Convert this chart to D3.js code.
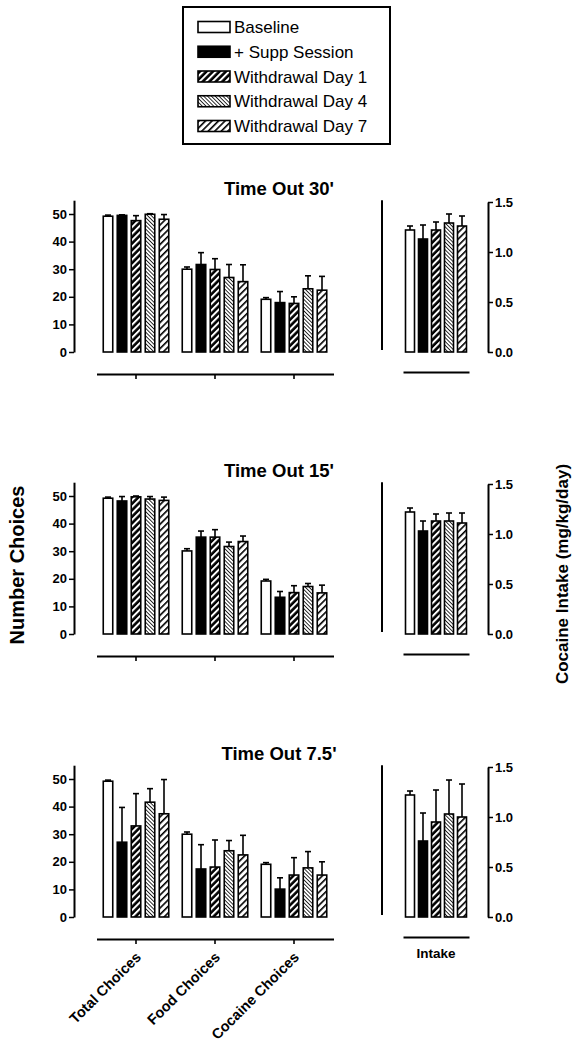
<!DOCTYPE html>
<html>
<head>
<meta charset="utf-8">
<script src="https://cdn.jsdelivr.net/npm/d3@7"></script>
<style>
  html, body { margin: 0; padding: 0; background: #fff; }
  svg { display: block; font-family: "Liberation Sans", Arial, Helvetica, sans-serif; }
</style>
</head>
<body>
<svg id="chart" width="582" height="1042"></svg>
<script>
// ---------------- DATA ----------------
const categories = ["Total Choices", "Food Choices", "Cocaine Choices"];
const seriesNames = ["Baseline", "+ Supp Session", "Withdrawal Day 1", "Withdrawal Day 4", "Withdrawal Day 7"];
const panelTitles = ["Time Out 30'", "Time Out 15'", "Time Out 7.5'"];
const intakeLabel = "Intake";
const leftTicks = [0, 10, 20, 30, 40, 50];
const rightTicks = [0.0, 0.5, 1.0, 1.5];

// choices: [category][series] means, and upper SEM
const choices30 = [[49.2, 49.5, 47.6, 49.9, 48.1], [30.0, 31.7, 29.9, 27.0, 25.5], [19.1, 17.9, 17.6, 22.9, 22.4]];
const choicesErr30 = [[0.4, 0.2, 1.8, 0.2, 1.7], [0.8, 4.3, 3.9, 4.7, 6.1], [0.6, 4.0, 2.4, 4.7, 5.0]];
const choices15 = [[49.2, 48.2, 49.7, 48.9, 48.4], [30.1, 35.1, 35.1, 31.7, 33.5], [19.2, 13.3, 15.0, 17.2, 14.9]];
const choicesErr15 = [[0.4, 1.6, 0.3, 0.9, 1.2], [0.8, 2.2, 2.7, 1.6, 2.0], [0.6, 2.1, 2.5, 1.1, 2.8]];
const choices75 = [[49.2, 27.1, 33.0, 41.6, 37.4], [30.0, 17.4, 18.1, 24.0, 22.5], [19.1, 10.1, 15.2, 17.8, 15.2]];
const choicesErr75 = [[0.4, 12.6, 11.7, 4.9, 12.4], [0.8, 8.8, 9.8, 3.7, 7.1], [0.6, 4.1, 6.3, 5.9, 4.8]];

const intake30 = [1.22, 1.13, 1.22, 1.29, 1.26];
const intakeErr30 = [0.04, 0.14, 0.08, 0.09, 0.10];
const intake15 = [1.22, 1.03, 1.13, 1.13, 1.11];
const intakeErr15 = [0.04, 0.10, 0.07, 0.08, 0.10];
const intake75 = [1.22, 0.76, 0.95, 1.03, 1.00];
const intakeErr75 = [0.04, 0.28, 0.32, 0.34, 0.33];

const panelChoices = [choices30, choices15, choices75];
const panelChoicesErr = [choicesErr30, choicesErr15, choicesErr75];
const panelIntake = [intake30, intake15, intake75];
const panelIntakeErr = [intakeErr30, intakeErr15, intakeErr75];

// ---------------- DRAW ----------------
const svg = d3.select("#chart");
const defs = svg.append("defs");

function stripePattern(id, angle, period, lineW, bg, fg) {
  const p = defs.append("pattern").attr("id", id)
    .attr("patternUnits", "userSpaceOnUse")
    .attr("width", period).attr("height", period)
    .attr("patternTransform", `rotate(${angle})`);
  p.append("rect").attr("width", period).attr("height", period).attr("fill", bg);
  p.append("rect").attr("x", 0).attr("y", 0).attr("width", lineW).attr("height", period).attr("fill", fg);
}
stripePattern("p-w1", 45, 4.6, 2.0, "#000", "#fff");
stripePattern("p-w4", -45, 2.7, 0.8, "#fff", "#000");
stripePattern("p-w7", 45, 4.6, 1.6, "#fff", "#000");

const fills = ["#fff", "#000", "url(#p-w1)", "url(#p-w4)", "url(#p-w7)"];
const color = d3.scaleOrdinal().domain(seriesNames).range(fills);

const bold = "bold";
const zeroYs = [352, 634, 917];

const xGroup = d3.scaleBand().domain(categories).range([96.5, 333.5]).padding(0);
const xInner = d3.scalePoint().domain(seriesNames).range([-28, 28]);
const barW = 9.5;
const intakeCenter = 436;
const xIntake = d3.scalePoint().domain(seriesNames).range([intakeCenter - 26, intakeCenter + 26]);
const barWI = 9;

panelTitles.forEach((title, pi) => {
  const z = zeroYs[pi];
  const yL = d3.scaleLinear().domain([0, 55]).range([z, z - 151.8]);
  const yR = d3.scaleLinear().domain([0, 1.5]).range([z, z - 150]);
  const g = svg.append("g");

  // title
  g.append("text").attr("x", 279).attr("y", z - 157)
    .attr("text-anchor", "middle").attr("font-size", 18.5).attr("font-weight", bold)
    .text(title);

  // left axis
  const la = g.append("g").attr("transform", "translate(74,0)")
    .call(d3.axisLeft(yL).tickValues(leftTicks).tickSize(5).tickSizeOuter(0).tickPadding(2).tickFormat(d3.format("d")));
  la.select(".domain").attr("stroke-width", 2);
  la.selectAll(".tick line").attr("stroke-width", 1.5);
  la.selectAll("text").attr("font-size", 13).attr("font-weight", bold).attr("font-family", "Liberation Sans, Arial, sans-serif").attr("fill", "#000");

  // bars (choices)
  const data = [];
  categories.forEach((c, ci) => seriesNames.forEach((s, si) => {
    data.push({ c, s, v: panelChoices[pi][ci][si], e: panelChoicesErr[pi][ci][si] });
  }));
  const bx = d => xGroup(d.c) + xGroup.bandwidth() / 2 + xInner(d.s);
  g.selectAll(".err").data(data).join("line")
    .attr("x1", bx).attr("x2", bx)
    .attr("y1", d => yL(d.v)).attr("y2", d => yL(d.v + d.e))
    .attr("stroke", "#000").attr("stroke-width", 1.6);
  g.selectAll(".cap").data(data).join("line")
    .attr("x1", d => bx(d) - 3).attr("x2", d => bx(d) + 3)
    .attr("y1", d => yL(d.v + d.e)).attr("y2", d => yL(d.v + d.e))
    .attr("stroke", "#000").attr("stroke-width", 1.6);
  g.selectAll(".bar").data(data).join("rect")
    .attr("x", d => bx(d) - barW / 2).attr("width", barW)
    .attr("y", d => yL(d.v)).attr("height", d => yL(0) - yL(d.v))
    .attr("fill", d => color(d.s)).attr("stroke", "#000").attr("stroke-width", 1.6);

  // bottom category axis
  const xa = g.append("g").attr("transform", `translate(0,${z + 22})`)
    .call(d3.axisBottom(xGroup).tickSize(5).tickSizeOuter(0).tickFormat(pi === 2 ? null : () => ""));
  xa.select(".domain").attr("stroke-width", 2);
  xa.selectAll(".tick line").attr("stroke-width", 1.6);
  if (pi === 2) {
    xa.selectAll("text")
      .attr("font-size", 14.5).attr("font-weight", bold).attr("fill", "#000")
      .attr("font-family", "Liberation Sans, Arial, sans-serif")
      .attr("text-anchor", "end")
      .attr("dy", null).attr("y", 0)
      .attr("transform", "translate(6,19) rotate(-45)");
  } else {
    xa.selectAll("text").remove();
  }

  // intake panel: left spine
  g.append("line").attr("x1", 382).attr("x2", 382)
    .attr("y1", yL(55)).attr("y2", z - 2)
    .attr("stroke", "#000").attr("stroke-width", 2);

  // right axis
  const ra = g.append("g").attr("transform", "translate(488,0)")
    .call(d3.axisRight(yR).tickValues(rightTicks).tickSize(5).tickSizeOuter(0).tickPadding(2).tickFormat(d3.format(".1f")));
  ra.select(".domain").attr("stroke-width", 2);
  ra.selectAll(".tick line").attr("stroke-width", 1.5);
  ra.selectAll("text").attr("font-size", 13).attr("font-weight", bold).attr("font-family", "Liberation Sans, Arial, sans-serif").attr("fill", "#000");

  const idata = seriesNames.map((s, si) => ({ s, v: panelIntake[pi][si], e: panelIntakeErr[pi][si] }));
  const ix = d => xIntake(d.s);
  g.selectAll(".ierr").data(idata).join("line")
    .attr("x1", ix).attr("x2", ix)
    .attr("y1", d => yR(d.v)).attr("y2", d => yR(d.v + d.e))
    .attr("stroke", "#000").attr("stroke-width", 1.6);
  g.selectAll(".icap").data(idata).join("line")
    .attr("x1", d => ix(d) - 3).attr("x2", d => ix(d) + 3)
    .attr("y1", d => yR(d.v + d.e)).attr("y2", d => yR(d.v + d.e))
    .attr("stroke", "#000").attr("stroke-width", 1.6);
  g.selectAll(".ibar").data(idata).join("rect")
    .attr("x", d => ix(d) - barWI / 2).attr("width", barWI)
    .attr("y", d => yR(d.v)).attr("height", d => yR(0) - yR(d.v))
    .attr("fill", d => color(d.s)).attr("stroke", "#000").attr("stroke-width", 1.6);

  // intake bottom line
  const xi = d3.scaleBand().domain([intakeLabel]).range([403, 469]);
  const ia = g.append("g").attr("transform", `translate(0,${z + 20})`)
    .call(d3.axisBottom(xi).tickSize(0).tickSizeOuter(0).tickPadding(11).tickFormat(pi === 2 ? null : () => ""));
  ia.select(".domain").attr("stroke-width", 2);
  ia.selectAll("text").attr("font-size", 13.5).attr("font-weight", bold).attr("fill", "#000")
    .attr("font-family", "Liberation Sans, Arial, sans-serif");
});

// axis titles
svg.append("text").attr("transform", "translate(24,565) rotate(-90)")
  .attr("text-anchor", "middle").attr("font-size", 20).attr("font-weight", bold)
  .text("Number Choices");
svg.append("text").attr("transform", "translate(568,574) rotate(-90)")
  .attr("text-anchor", "middle").attr("font-size", 17).attr("font-weight", bold)
  .text("Cocaine Intake (mg/kg/day)");

// legend
const lg = svg.append("g");
lg.append("rect").attr("x", 183).attr("y", 7).attr("width", 207).attr("height", 137)
  .attr("fill", "#fff").attr("stroke", "#000").attr("stroke-width", 2);
const ly = d3.scalePoint().domain(seriesNames).range([27, 126]);
seriesNames.forEach(s => {
  lg.append("rect").attr("x", 198).attr("y", ly(s) - 5.5).attr("width", 32).attr("height", 11)
    .attr("fill", color(s)).attr("stroke", "#000").attr("stroke-width", 1.6);
  lg.append("text").attr("x", 234).attr("y", ly(s)).attr("dy", "0.36em")
    .attr("font-size", 17).text(s);
});
</script>
</body>
</html>
